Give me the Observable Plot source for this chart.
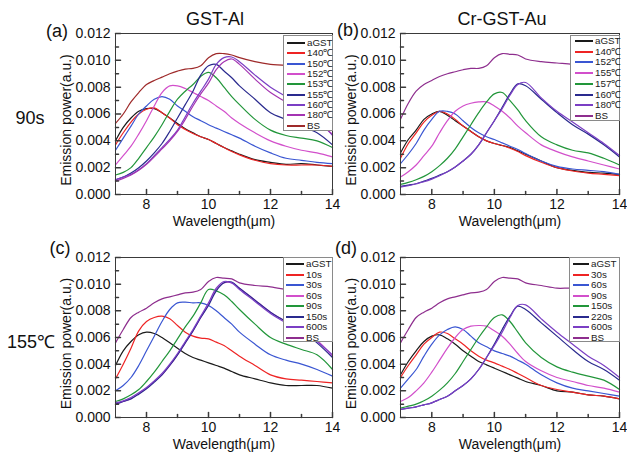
<!DOCTYPE html>
<html><head><meta charset="utf-8">
<script src="https://cdn.jsdelivr.net/npm/d3@7"></script>
<script src="https://cdn.jsdelivr.net/npm/@observablehq/plot@0.6"></script>
<style>
body{margin:0;background:#fff;}
#fig{position:relative;width:627px;height:452px;background:#fff;font-family:"Liberation Sans",Arial,sans-serif;color:#111;overflow:hidden}
#fig svg{position:absolute}
.lbl{position:absolute;white-space:nowrap;line-height:1;transform:translate(-50%,-50%)}
.leg{position:absolute;background:#fff;border:1px solid #8a8a8a;box-sizing:border-box}
.leg .ln{position:absolute;height:2px}
.leg .tx{position:absolute;line-height:1;transform:translateY(-50%);font-size:9.8px;color:#222;white-space:nowrap}
</style></head><body><div id="fig"></div>
<script>
// wavelength grid (µm)
const wavelength = [7,7.25,7.5,7.75,8,8.25,8.5,8.75,9,9.25,9.5,9.75,10,10.25,10.5,10.75,11,11.5,12,12.5,13,13.5,14];
// axis ticks
const xTickLabels = [8,10,12,14];
const xMinorTicks = [9,11,13];
const yTickLabels = [0,0.002,0.004,0.006,0.008,0.010,0.012];
const yMinorTicks = [0.001,0.003,0.005,0.007,0.009,0.011];
const xLabel = "Wavelength(μm)";
const yLabel = "Emission power(a.u.)";

// Emission power in units of 0.001 a.u.
// (a) GST-Al, 90 s
const gstAl90_names = ["aGST","140℃","150℃","152℃","153℃","155℃","160℃","180℃","BS"];
const gstAl90_aGST = [4.0,5.0,5.7,6.2,6.4,6.4,6.1,5.7,5.3,4.9,4.6,4.3,4.1,3.8,3.5,3.25,3.0,2.6,2.4,2.25,2.3,2.2,2.1];
const gstAl90_140  = [3.7,4.6,5.4,6.0,6.35,6.45,6.1,5.7,5.2,4.85,4.55,4.3,4.1,3.8,3.5,3.2,2.95,2.55,2.3,2.2,2.2,2.2,2.1];
const gstAl90_150  = [3.3,4.2,5.1,6.0,6.6,7.1,7.3,7.1,6.6,6.2,5.8,5.5,5.2,4.95,4.7,4.45,4.2,3.6,3.1,2.7,2.55,2.4,2.3];
const gstAl90_152  = [2.2,2.9,3.6,4.5,5.5,6.6,7.6,8.1,8.1,7.9,7.6,7.3,7.0,6.6,6.2,5.7,5.3,4.6,4.0,3.6,3.3,3.1,2.8];
const gstAl90_153  = [1.45,1.65,2.0,2.7,3.5,4.3,5.2,6.2,7.1,7.7,8.2,8.8,9.1,8.7,8.0,7.3,6.7,5.6,4.8,4.4,4.2,4.0,3.5];
const gstAl90_155  = [1.1,1.3,1.6,2.0,2.5,3.1,3.8,4.7,5.7,6.7,7.7,8.9,9.6,9.7,9.2,8.7,8.1,7.1,6.1,5.6,5.1,4.6,3.7];
const gstAl90_160  = [1.1,1.3,1.5,1.85,2.3,2.9,3.5,4.1,4.8,5.8,6.8,7.7,8.6,9.7,10.2,10.25,9.9,8.9,8.0,7.3,6.5,5.6,4.4];
const gstAl90_180  = [1.0,1.2,1.45,1.8,2.25,2.8,3.4,4.0,4.7,5.6,6.6,7.5,8.3,9.3,9.9,10.1,9.7,8.6,7.6,6.9,6.2,5.4,4.5];
const gstAl90_BS   = [5.3,6.0,6.9,7.6,8.2,8.5,8.75,9.0,9.2,9.35,9.4,9.6,10.2,10.5,10.5,10.4,10.2,9.9,9.7,9.6,9.3,9.1,8.9];

// (b) Cr-GST-Au, 90 s
const crAu90_names = ["aGST","140℃","152℃","155℃","157℃","160℃","180℃","BS"];
const crAu90_aGST = [3.1,4.1,4.8,5.6,6.0,6.2,5.9,5.5,5.1,4.7,4.3,4.0,3.8,3.65,3.5,3.25,3.0,2.5,2.0,1.8,1.65,1.6,1.5];
const crAu90_140  = [2.7,3.8,4.6,5.4,5.9,6.2,6.0,5.6,5.1,4.7,4.3,4.0,3.8,3.65,3.45,3.2,2.9,2.4,2.0,1.75,1.6,1.5,1.4];
const crAu90_152  = [2.3,3.0,3.8,4.8,5.6,6.2,6.2,6.0,5.5,5.0,4.6,4.3,4.1,3.85,3.6,3.35,3.05,2.5,2.1,1.9,1.8,1.7,1.5];
const crAu90_155  = [1.3,1.7,2.2,2.9,3.6,4.6,5.5,6.2,6.6,6.8,6.9,6.9,6.6,6.2,5.7,5.1,4.6,3.7,3.2,2.8,2.5,2.2,1.9];
const crAu90_157  = [0.75,0.9,1.1,1.35,1.7,2.15,2.7,3.4,4.3,5.2,6.1,6.9,7.5,7.6,7.0,6.3,5.5,4.3,3.7,3.3,3.1,2.7,2.2];
const crAu90_160  = [0.6,0.7,0.8,1.0,1.2,1.45,1.7,2.05,2.5,3.0,3.7,4.6,5.5,6.5,7.5,8.25,8.1,7.1,6.1,5.2,4.5,3.7,2.8];
const crAu90_180  = [0.55,0.65,0.8,0.95,1.15,1.4,1.7,2.05,2.5,3.0,3.7,4.6,5.5,6.4,7.4,8.2,8.35,7.2,6.2,5.4,4.6,3.8,2.9];
const crAu90_BS   = [5.6,6.8,7.7,8.2,8.5,8.8,9.0,9.15,9.3,9.4,9.4,9.6,10.2,10.5,10.45,10.4,10.1,9.9,9.8,9.7,9.5,9.3,9.1];

// (c) GST-Al, 155 ℃
const gstAl155_names = ["aGST","10s","30s","60s","90s","150s","600s","BS"];
const gstAl155_aGST = [3.9,5.0,5.7,6.2,6.4,6.3,6.0,5.6,5.2,4.8,4.5,4.3,4.1,3.9,3.7,3.45,3.2,2.9,2.6,2.4,2.4,2.4,2.2];
const gstAl155_10s  = [2.9,4.0,5.2,6.5,7.2,7.5,7.6,7.4,6.9,6.4,6.1,5.95,5.9,5.65,5.4,5.0,4.6,3.9,3.2,2.9,2.8,2.7,2.6];
const gstAl155_30s  = [2.0,2.4,3.0,3.9,5.0,6.1,7.2,8.1,8.6,8.65,8.6,8.6,8.4,8.0,7.5,7.0,6.4,5.5,4.7,4.3,4.0,3.6,3.1];
const gstAl155_60s  = [1.0,1.2,1.4,1.8,2.2,2.7,3.2,3.9,4.7,5.6,6.5,7.5,8.5,9.6,10.1,10.1,9.7,8.8,7.9,7.2,6.6,5.8,4.6];
const gstAl155_90s  = [1.2,1.4,1.7,2.1,2.7,3.4,4.2,5.0,5.9,6.8,7.6,8.6,9.6,9.5,9.2,8.7,8.1,7.0,6.0,5.5,5.1,4.7,3.6];
const gstAl155_150s = [1.0,1.2,1.4,1.75,2.15,2.65,3.2,3.9,4.7,5.6,6.5,7.5,8.4,9.5,10.1,10.15,9.7,8.8,7.9,7.2,6.5,5.6,4.5];
const gstAl155_600s = [1.1,1.25,1.5,1.85,2.25,2.75,3.3,4.0,4.8,5.7,6.6,7.6,8.6,9.7,10.2,10.1,9.6,8.7,7.8,7.1,6.5,5.7,4.7];
const gstAl155_BS   = [5.6,6.6,7.5,7.9,8.2,8.6,8.9,9.05,9.2,9.35,9.4,9.6,10.2,10.5,10.45,10.4,10.1,9.9,9.8,9.6,9.4,9.2,9.0];

// (d) Cr-GST-Au, 155 ℃
const crAu155_names = ["aGST","30s","60s","90s","150s","220s","600s","BS"];
const crAu155_aGST = [3.2,4.2,5.0,5.7,6.1,6.2,5.9,5.5,5.0,4.6,4.2,3.95,3.7,3.45,3.2,2.95,2.7,2.4,2.0,1.9,1.7,1.6,1.4];
const crAu155_30s  = [3.0,3.9,4.7,5.5,6.0,6.4,6.3,5.9,5.5,5.0,4.6,4.3,4.1,3.85,3.6,3.3,3.0,2.4,2.1,1.9,1.7,1.6,1.4];
const crAu155_60s  = [2.2,2.9,3.6,4.6,5.5,6.2,6.6,6.8,6.6,6.1,5.6,5.3,5.0,4.8,4.6,4.3,4.0,3.2,2.6,2.2,2.0,1.8,1.6];
const crAu155_90s  = [1.2,1.5,2.0,2.6,3.4,4.3,5.2,6.0,6.6,6.85,6.9,6.85,6.5,6.1,5.5,4.8,4.2,3.5,3.0,2.7,2.4,2.2,1.9];
const crAu155_150s = [0.7,0.85,1.0,1.25,1.6,2.05,2.6,3.3,4.2,5.1,6.0,6.8,7.5,7.7,7.2,6.4,5.6,4.5,3.8,3.4,3.1,2.8,2.1];
const crAu155_220s = [0.6,0.7,0.8,0.95,1.1,1.35,1.6,2.0,2.4,2.9,3.6,4.5,5.5,6.6,7.6,8.35,8.1,7.1,6.1,5.1,4.2,3.6,2.8];
const crAu155_600s = [0.6,0.7,0.8,0.95,1.1,1.35,1.6,2.0,2.4,2.9,3.6,4.5,5.4,6.4,7.5,8.4,8.45,7.4,6.4,5.5,4.6,3.9,3.0];
const crAu155_BS   = [5.6,6.6,7.5,7.9,8.2,8.6,8.9,9.05,9.2,9.35,9.4,9.6,10.2,10.5,10.45,10.4,10.1,9.9,9.7,9.7,9.5,9.3,9.1];

const C = {black:"#1a1a1a", red:"#ee2424", blue:"#3a56d2", magenta:"#d24fcb", green:"#22963a",
           navy:"#2a2a8e", violet:"#7b3fc4", purple:"#a434b2", brown:"#9e2a2a", plum:"#8e2e8e"};

const FONT = '"Liberation Sans", Arial, sans-serif';
const tickShape = {draw(ctx, l){ ctx.moveTo(0,0); ctx.lineTo(0,-l); }};
const fig = document.getElementById("fig");

const panels = [
  {left:0, top:0, w:340, h:228, ml:115, mr:8, mt:33, mb:34,
   names:gstAl90_names,
   series:[gstAl90_aGST,gstAl90_140,gstAl90_150,gstAl90_152,gstAl90_153,gstAl90_155,gstAl90_160,gstAl90_180,gstAl90_BS],
   colors:[C.black,C.red,C.blue,C.magenta,C.green,C.navy,C.violet,C.purple,C.brown],
   legend:{x:283,y:35,w:50,h:96,row0:43,step:10.35,l0:3,l1:21,t:23}},
  {left:300, top:0, w:327, h:228, ml:100, mr:8, mt:33, mb:34,
   names:crAu90_names,
   series:[crAu90_aGST,crAu90_140,crAu90_152,crAu90_155,crAu90_157,crAu90_160,crAu90_180,crAu90_BS],
   colors:[C.black,C.red,C.blue,C.magenta,C.green,C.navy,C.violet,C.plum],
   legend:{x:570,y:35,w:50,h:86,row0:41,step:10.7,l0:4,l1:22,t:24}},
  {left:0, top:224, w:340, h:228, ml:115, mr:8, mt:33, mb:35,
   names:gstAl155_names,
   series:[gstAl155_aGST,gstAl155_10s,gstAl155_30s,gstAl155_60s,gstAl155_90s,gstAl155_150s,gstAl155_600s,gstAl155_BS],
   colors:[C.black,C.red,C.blue,C.magenta,C.green,C.navy,C.violet,C.plum],
   legend:{x:283,y:257,w:50,h:85,row0:264,step:10.5,l0:2,l1:20,t:22}},
  {left:300, top:224, w:327, h:228, ml:100, mr:8, mt:33, mb:35,
   names:crAu155_names,
   series:[crAu155_aGST,crAu155_30s,crAu155_60s,crAu155_90s,crAu155_150s,crAu155_220s,crAu155_600s,crAu155_BS],
   colors:[C.black,C.red,C.blue,C.magenta,C.green,C.navy,C.violet,C.plum],
   legend:{x:569,y:257,w:51,h:85,row0:264,step:10.5,l0:3,l1:19,t:21}}
];

const axisColor = "#3a3a3a";
for (const p of panels) {
  const rows = [];
  p.series.forEach((vals, i) => vals.forEach((v, j) => rows.push({wl: wavelength[j], power: v / 1000, name: p.names[i]})));
  const svg = Plot.plot({
    width: p.w, height: p.h,
    marginLeft: p.ml, marginRight: p.mr, marginTop: p.mt, marginBottom: p.mb,
    style: {fontFamily: FONT, background: "transparent", overflow: "visible", color: "#111"},
    x: {domain: [7, 14]},
    y: {domain: [0, 0.012]},
    color: {domain: p.names, range: p.colors},
    marks: [
      Plot.line(rows, {x: "wl", y: "power", z: "name", stroke: "name", strokeWidth: 1.2, curve: "catmull-rom"}),
      Plot.frame({stroke: axisColor, strokeWidth: 1}),
      Plot.vector(xTickLabels, {x: d => d, frameAnchor: "bottom", length: 5, rotate: 0, anchor: "start", shape: tickShape, stroke: axisColor}),
      Plot.vector(xMinorTicks, {x: d => d, frameAnchor: "bottom", length: 3, rotate: 0, anchor: "start", shape: tickShape, stroke: axisColor}),
      Plot.vector(yTickLabels, {y: d => d, frameAnchor: "left", length: 5, rotate: 90, anchor: "start", shape: tickShape, stroke: axisColor}),
      Plot.vector(yMinorTicks, {y: d => d, frameAnchor: "left", length: 3, rotate: 90, anchor: "start", shape: tickShape, stroke: axisColor}),
      Plot.axisX(xTickLabels, {tickSize: 0, tickPadding: 5, fontSize: 14, label: null}),
      Plot.axisY(yTickLabels, {tickSize: 0, tickPadding: 5, fontSize: 14, tickFormat: d3.format(".3f"), label: null}),
      Plot.text([xLabel], {text: d => d, frameAnchor: "bottom", lineAnchor: "middle", textAnchor: "middle", dy: 27, fontSize: 14}),
      Plot.text([yLabel], {text: d => d, frameAnchor: "left", lineAnchor: "middle", textAnchor: "middle", rotate: -90, dx: -49, dy: 6, fontSize: 14})
    ]
  });
  svg.style.left = p.left + "px";
  svg.style.top = p.top + "px";
  fig.appendChild(svg);

  const L = p.legend;
  const box = document.createElement("div");
  box.className = "leg";
  Object.assign(box.style, {left: L.x + "px", top: L.y + "px", width: L.w + "px", height: L.h + "px"});
  p.names.forEach((n, i) => {
    const cy = Math.round(L.row0 - L.y - 1 + i * L.step);
    const ln = document.createElement("div");
    ln.className = "ln";
    Object.assign(ln.style, {left: L.l0 + "px", width: (L.l1 - L.l0) + "px", top: (cy - 1) + "px", background: p.colors[i]});
    const tx = document.createElement("div");
    tx.className = "tx";
    tx.textContent = n;
    Object.assign(tx.style, {left: L.t + "px", top: cy + "px"});
    box.appendChild(ln); box.appendChild(tx);
  });
  fig.appendChild(box);
}

const labels = [
  {t:"(a)", x:57, y:31, s:18}, {t:"GST-Al", x:215, y:19, s:18},
  {t:"(b)", x:348, y:30, s:18}, {t:"Cr-GST-Au", x:502, y:19, s:18},
  {t:"90s", x:30, y:118, s:18},
  {t:"(c)", x:60, y:248, s:18}, {t:"(d)", x:346, y:248, s:18},
  {t:"155℃", x:31, y:342, s:18}
];
for (const l of labels) {
  const d = document.createElement("div");
  d.className = "lbl";
  d.textContent = l.t;
  Object.assign(d.style, {left: l.x + "px", top: l.y + "px", fontSize: l.s + "px"});
  fig.appendChild(d);
}
</script>
</body></html>
